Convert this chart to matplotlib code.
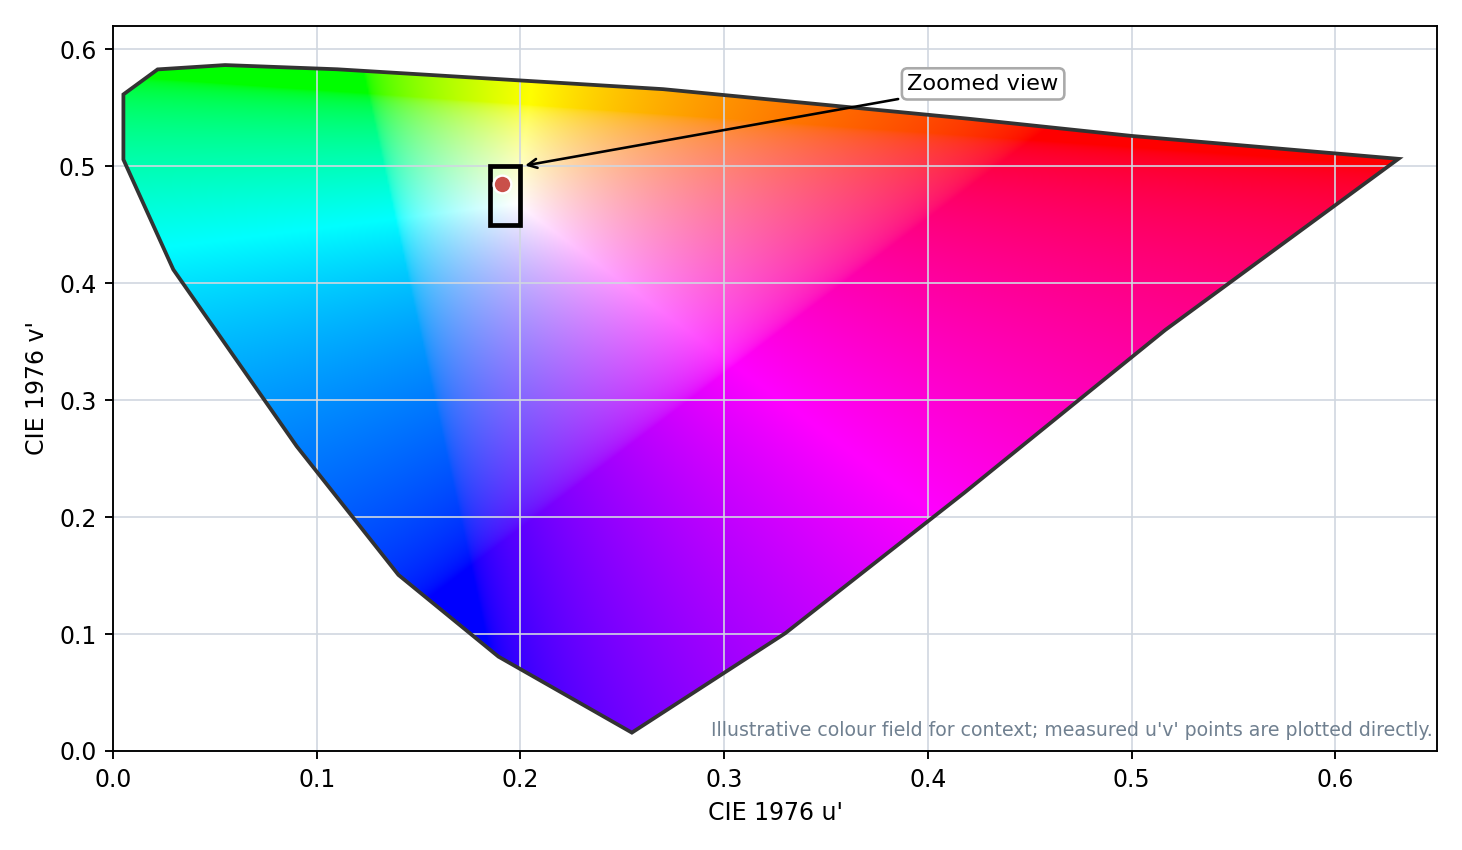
import numpy as np
import matplotlib
matplotlib.use("Agg")
import matplotlib.pyplot as plt
from matplotlib.patches import Polygon, Rectangle

# Spectral-locus outline (u', v')
locus_u = [0.0051, 0.0219, 0.055, 0.11, 0.27, 0.42, 0.50, 0.631, 0.5165, 0.418,
           0.33, 0.2547, 0.1892, 0.1401, 0.0902, 0.0296, 0.0051]
locus_v = [0.5615, 0.5829, 0.5866, 0.583, 0.566, 0.5407, 0.526, 0.5064, 0.360, 0.221,
           0.1007, 0.0157, 0.0807, 0.1506, 0.2605, 0.4117, 0.5058]

# Zoom box and measured point
zoom_u = [0.185, 0.200]
zoom_v = [0.450, 0.500]
point_u = [0.191]
point_v = [0.4853]

annot_text = "Zoomed view"
annot_xy = (0.200, 0.500)
annot_xytext = (0.390, 0.5705)
footnote = "Illustrative colour field for context; measured u'v' points are plotted directly."

xlim = (0.0, 0.65)
ylim = (0.0, 0.62)

fig = plt.figure(figsize=(8.6, 5.0), dpi=170)
ax = fig.add_axes([0.0773, 0.1165, 0.9057, 0.8529])

# colour field: u'v' -> xy -> XYZ (Y=1) -> linear sRGB, clip, normalise, gamma
nu, nv = 700, 700
uu = np.linspace(xlim[0], xlim[1], nu)
vv = np.linspace(ylim[0], ylim[1], nv)
U, V = np.meshgrid(uu, vv)
den = 6 * U - 16 * V + 12
x = 9 * U / den
y = 4 * V / den
y = np.where(y <= 1e-6, 1e-6, y)
X = x / y
Y = np.ones_like(X)
Z = (1 - x - y) / y
M = np.array([[3.2406, -1.5372, -0.4986],
              [-0.9689, 1.8758, 0.0415],
              [0.0557, -0.2040, 1.0570]])
rgb = np.stack([X, Y, Z], axis=-1) @ M.T
rgb = np.clip(rgb, 0, None)
mx = rgb.max(axis=-1, keepdims=True)
mx[mx == 0] = 1
rgb = rgb / mx
rgb = np.where(rgb <= 0.0031308, 12.92 * rgb, 1.055 * np.power(rgb, 1 / 2.4) - 0.055)
rgb = np.clip(rgb, 0, 1)

im = ax.imshow(rgb, origin="lower", extent=[xlim[0], xlim[1], ylim[0], ylim[1]],
               aspect="auto", interpolation="bilinear", zorder=0)
clip_poly = Polygon(np.column_stack([locus_u, locus_v]), closed=True,
                    transform=ax.transData, facecolor="none", edgecolor="none")
ax.add_patch(clip_poly)
im.set_clip_path(clip_poly)

outline = Polygon(np.column_stack([locus_u, locus_v]), closed=True,
                  facecolor="none", edgecolor="#333333", linewidth=1.6, zorder=2)
ax.add_patch(outline)

ax.add_patch(Rectangle((zoom_u[0], zoom_v[0]), zoom_u[1] - zoom_u[0], zoom_v[1] - zoom_v[0],
                       facecolor="none", edgecolor="black", linewidth=2.0, zorder=3))
ax.plot(point_u, point_v, "o", color="#c9504a", markersize=7.5,
        markeredgecolor="white", markeredgewidth=1.0, zorder=4)

ax.annotate(annot_text, xy=annot_xy, xytext=annot_xytext, fontsize=9.5,
            ha="left", va="center",
            bbox=dict(boxstyle="round,pad=0.25", facecolor="white", edgecolor="#aaaaaa", linewidth=1.1),
            arrowprops=dict(arrowstyle="->", color="black", linewidth=1.1), zorder=5)

ax.text(0.9965, 0.015, footnote, transform=ax.transAxes, ha="right", va="bottom",
        fontsize=8, color="#708090", zorder=5)

ax.set_xlim(*xlim)
ax.set_ylim(*ylim)
ax.set_xlabel("CIE 1976 u'", fontsize=10)
ax.set_ylabel("CIE 1976 v'", fontsize=10)
ax.grid(True, color="#d0d7e0", linewidth=0.7)
ax.tick_params(labelsize=10)

fig.savefig("out.png", dpi=170)
